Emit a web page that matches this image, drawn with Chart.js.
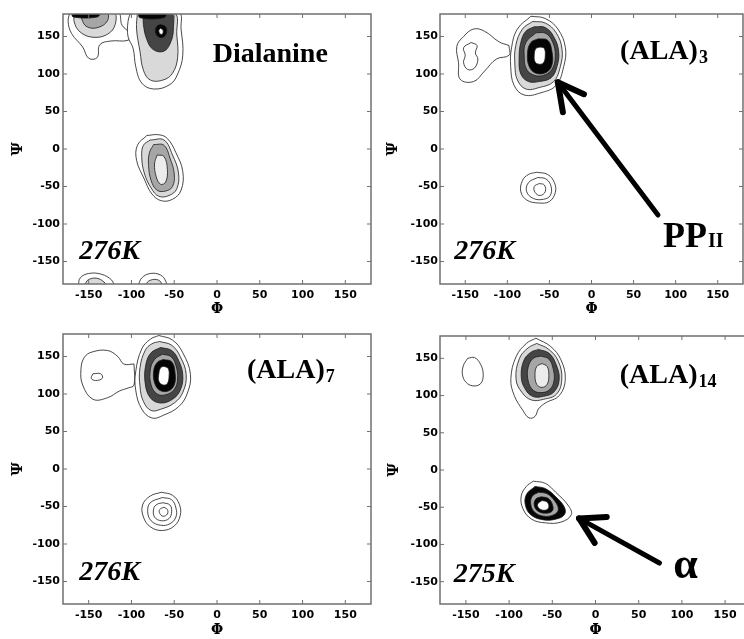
<!DOCTYPE html>
<html>
<head>
<meta charset="utf-8">
<script src="https://cdn.jsdelivr.net/npm/chart.js@4.4.0/dist/chart.umd.min.js"></script>
<style>
html, body { margin:0; padding:0; background:#fff; overflow:hidden; width:744px; height:639px; }
canvas { position:absolute; }
</style>
</head>
<body>
<canvas id="pA" width="380" height="318" style="left:0;top:0"></canvas>
<canvas id="pB" width="372" height="318" style="left:372px;top:0"></canvas>
<canvas id="pC" width="380" height="321" style="left:0;top:318px"></canvas>
<canvas id="pD" width="386" height="321" style="left:372px;top:318px"></canvas>
<script>
// axis ticks (degrees)
const phiTicks = [-150, -100, -50, 0, 50, 100, 150];
const psiTicks = [-150, -100, -50, 0, 50, 100, 150];

// contour rings, [phi, psi] pairs, outside -> inside
// Dialanine
const diaBetaOuter = [[-172,182],[-116,182],[-111,165],[-101,153],[-104,145],[-124,144],[-137,139],[-140,122],[-150,121],[-157,136],[-170,154],[-174,170],[-172,182]];
const diaBetaMid = [[-166,182],[-121,182],[-119,166],[-128,153],[-145,149],[-160,156],[-167,170],[-166,182]];
const diaBetaIn = [[-158,182],[-129,182],[-128,171],[-139,162],[-152,163],[-158,173],[-158,182]];
const diaBetaTop = [[-170,182],[-137,182],[-140,176],[-168,176],[-170,182]];
const diaPPOuter = [[-101,182],[-45,182],[-42,160],[-40,125],[-46,100],[-55,86],[-74,80],[-88,88],[-95,110],[-98,134],[-104,150],[-104,170],[-101,182]];
const diaPPMid = [[-93,182],[-50,182],[-47,152],[-46,122],[-52,101],[-63,92],[-78,92],[-86,105],[-90,130],[-94,160],[-93,182]];
const diaPPDark = [[-86,182],[-54,182],[-51,160],[-55,140],[-63,130],[-75,133],[-82,146],[-86,166],[-86,182]];
const diaPPTop = [[-92,182],[-60,182],[-62,175],[-90,175],[-92,182]];
const diaPPCore = [[-66,166],[-60,163],[-59,155],[-63,149],[-69,150],[-72,157],[-70,164],[-66,166]];
const diaPPHole = [[-66,161],[-63,158],[-64,153],[-67,154],[-68,158],[-66,161]];
const diaAlphaOuter = [[-82,18],[-68,19],[-58,14],[-48,-5],[-40,-30],[-42,-55],[-52,-67],[-65,-69],[-76,-60],[-85,-40],[-94,-15],[-93,5],[-82,18]];
const diaAlpha2 = [[-78,12],[-62,12],[-52,-8],[-45,-32],[-47,-53],[-56,-62],[-68,-63],[-77,-52],[-85,-32],[-88,-10],[-86,5],[-78,12]];
const diaAlpha3 = [[-74,6],[-62,5],[-55,-12],[-50,-33],[-52,-50],[-60,-56],[-70,-55],[-77,-42],[-80,-22],[-79,-5],[-74,6]];
const diaAlpha4 = [[-70,-8],[-62,-10],[-58,-27],[-60,-44],[-66,-47],[-71,-37],[-73,-20],[-70,-8]];
const diaBot1 = [[-162,-182],[-160,-172],[-150,-166],[-135,-167],[-123,-175],[-122,-182],[-162,-182]];
const diaBot1In = [[-155,-182],[-150,-174],[-138,-173],[-130,-182],[-155,-182]];
const diaBot2 = [[-92,-182],[-88,-172],[-78,-166],[-66,-168],[-60,-176],[-60,-182],[-92,-182]];
const diaBot2In = [[-85,-182],[-78,-175],[-68,-175],[-65,-182],[-85,-182]];

// (ALA)3
const ala3BetaOuter = [[-98,138],[-110,143],[-127,157],[-140,160],[-152,150],[-160,137],[-158,115],[-156,93],[-140,90],[-127,104],[-113,120],[-98,125],[-98,138]];
const ala3BetaIn = [[-143,142],[-136,138],[-138,128],[-135,120],[-139,108],[-147,106],[-152,115],[-150,125],[-152,135],[-143,142]];
const ala3PP1 = [[-72,177],[-55,174],[-40,160],[-31,135],[-33,110],[-42,85],[-60,75],[-80,72],[-92,85],[-96,110],[-95,135],[-88,160],[-72,177]];
const ala3PP2 = [[-70,170],[-55,168],[-42,155],[-35,133],[-37,110],[-45,90],[-62,82],[-78,80],[-88,92],[-91,112],[-90,138],[-82,160],[-70,170]];
const ala3PP3 = [[-68,163],[-55,162],[-45,150],[-39,130],[-41,110],[-48,95],[-62,90],[-75,90],[-84,100],[-86,120],[-84,142],[-78,157],[-68,163]];
const ala3PP4 = [[-66,155],[-54,154],[-46,142],[-43,125],[-46,108],[-55,99],[-67,98],[-77,106],[-80,124],[-78,142],[-66,155]];
const ala3PP5 = [[-63,147],[-52,145],[-47,130],[-47,112],[-54,102],[-66,101],[-74,110],[-76,128],[-72,142],[-63,147]];
const ala3PP6 = [[-61,136],[-56,134],[-55,123],[-57,115],[-62,113],[-67,116],[-68,126],[-66,134],[-61,136]];
const ala3Alpha1 = [[-65,-31],[-52,-34],[-44,-45],[-43,-58],[-50,-70],[-63,-72],[-77,-68],[-84,-57],[-82,-42],[-75,-34],[-65,-31]];
const ala3Alpha2 = [[-64,-38],[-54,-40],[-48,-50],[-49,-62],[-57,-67],[-69,-66],[-77,-57],[-75,-45],[-64,-38]];
const ala3Alpha3 = [[-62,-46],[-56,-48],[-55,-57],[-61,-62],[-67,-58],[-68,-50],[-62,-46]];

// (ALA)7
const ala7BetaOuter = [[-97,140],[-109,140],[-116,150],[-128,158],[-146,156],[-155,149],[-159,133],[-157,112],[-145,93],[-128,95],[-114,104],[-104,108],[-97,112],[-97,140]];
const ala7BetaIn = [[-145,127],[-136,127],[-134,121],[-142,118],[-147,121],[-145,127]];
const ala7PP1 = [[-68,178],[-52,172],[-40,155],[-31,126],[-35,100],[-45,83],[-62,72],[-76,68],[-88,80],[-95,105],[-95,130],[-88,160],[-78,173],[-68,178]];
const ala7PP2 = [[-67,170],[-53,165],[-43,150],[-36,126],[-40,102],[-50,88],[-65,80],[-77,78],[-86,90],[-90,110],[-90,135],[-84,158],[-76,167],[-67,170]];
const ala7PP3 = [[-66,162],[-53,158],[-45,145],[-40,125],[-43,105],[-52,93],[-66,88],[-78,95],[-84,115],[-83,140],[-77,155],[-66,162]];
const ala7PP4 = [[-64,153],[-54,150],[-48,138],[-46,120],[-50,106],[-60,99],[-70,100],[-77,112],[-78,132],[-73,146],[-64,153]];
const ala7PP5 = [[-63,146],[-53,143],[-49,128],[-50,112],[-57,104],[-67,105],[-73,115],[-74,131],[-70,142],[-63,146]];
const ala7PP6 = [[-62,137],[-57,134],[-56,124],[-58,114],[-63,112],[-68,117],[-68,127],[-66,135],[-62,137]];
const ala7Alpha1 = [[-65,-31],[-52,-35],[-44,-47],[-43,-62],[-50,-76],[-64,-82],[-78,-77],[-86,-64],[-87,-48],[-78,-36],[-65,-31]];
const ala7Alpha2 = [[-64,-38],[-53,-41],[-48,-52],[-48,-64],[-55,-73],[-66,-75],[-77,-69],[-81,-57],[-78,-45],[-64,-38]];
const ala7Alpha3 = [[-63,-45],[-55,-48],[-53,-57],[-56,-66],[-65,-69],[-73,-64],[-74,-53],[-70,-47],[-63,-45]];
const ala7Alpha4 = [[-62,-51],[-58,-54],[-58,-60],[-63,-63],[-67,-59],[-67,-54],[-62,-51]];

// (ALA)14
const ala14Beta = [[-148,150],[-140,151],[-133,142],[-130,128],[-133,116],[-142,113],[-150,118],[-154,128],[-153,140],[-148,150]];
const ala14PP1 = [[-69,177],[-52,166],[-40,148],[-35,122],[-42,100],[-58,90],[-66,82],[-70,72],[-77,70],[-84,80],[-94,100],[-98,122],[-92,152],[-80,170],[-69,177]];
const ala14PP2 = [[-68,170],[-54,162],[-43,146],[-39,122],[-45,102],[-60,95],[-74,94],[-85,104],[-92,122],[-88,150],[-78,164],[-68,170]];
const ala14PP3 = [[-66,162],[-54,157],[-46,143],[-42,122],[-48,105],[-60,99],[-73,99],[-82,110],[-86,126],[-83,147],[-75,158],[-66,162]];
const ala14PP4 = [[-63,153],[-54,149],[-49,136],[-48,120],[-53,108],[-62,104],[-72,107],[-78,120],[-78,138],[-72,150],[-63,153]];
const ala14PP5 = [[-62,143],[-56,139],[-54,127],[-56,115],[-62,111],[-68,115],[-70,128],[-68,139],[-62,143]];
const ala14Alpha1 = [[-72,-15],[-58,-18],[-46,-30],[-32,-47],[-28,-60],[-40,-70],[-58,-71],[-74,-66],[-84,-52],[-86,-35],[-80,-22],[-72,-15]];
const ala14Alpha2 = [[-70,-22],[-58,-25],[-46,-36],[-36,-50],[-36,-60],[-46,-66],[-60,-67],[-74,-61],[-81,-48],[-80,-33],[-70,-22]];
const ala14Alpha3 = [[-66,-30],[-56,-32],[-47,-42],[-43,-53],[-48,-60],[-60,-62],[-71,-56],[-75,-45],[-73,-35],[-66,-30]];
const ala14Alpha4 = [[-63,-36],[-55,-38],[-50,-46],[-50,-55],[-58,-58],[-67,-55],[-71,-47],[-69,-39],[-63,-36]];
const ala14Alpha5 = [[-62,-41],[-56,-43],[-54,-50],[-58,-54],[-65,-52],[-67,-46],[-62,-41]];

// contour level of each ring: 0 outer ... 4 peak, 5 hole, 6 pale centre
const levelFill = ['#ffffff', '#d9d9d9', '#a6a6a6', '#454545', '#050505', '#ffffff', '#ececec'];

const ringsA = [[diaBetaOuter,0],[diaBetaMid,1],[diaBetaIn,2],[diaBetaTop,4],
  [diaPPOuter,0],[diaPPMid,1],[diaPPDark,3],[diaPPTop,4],[diaPPCore,4],[diaPPHole,5],
  [diaAlphaOuter,0],[diaAlpha2,1],[diaAlpha3,2],[diaAlpha4,6],
  [diaBot1,0],[diaBot1In,1],[diaBot2,0],[diaBot2In,1]];
const ringsB = [[ala3BetaOuter,0],[ala3BetaIn,0],
  [ala3PP1,0],[ala3PP2,1],[ala3PP3,3],[ala3PP4,2],[ala3PP5,4],[ala3PP6,5],
  [ala3Alpha1,0],[ala3Alpha2,0],[ala3Alpha3,0]];
const ringsC = [[ala7BetaOuter,0],[ala7BetaIn,0],
  [ala7PP1,0],[ala7PP2,1],[ala7PP3,3],[ala7PP4,2],[ala7PP5,4],[ala7PP6,5],
  [ala7Alpha1,0],[ala7Alpha2,0],[ala7Alpha3,0],[ala7Alpha4,0]];
const ringsD = [[ala14Beta,0],
  [ala14PP1,0],[ala14PP2,1],[ala14PP3,3],[ala14PP4,2],[ala14PP5,6],
  [ala14Alpha1,0],[ala14Alpha2,4],[ala14Alpha3,2],[ala14Alpha4,4],[ala14Alpha5,5]];

// arrows: shaft then the two strokes of the head
const ppArrow = [[[79,-88],[-40,89]], [[-40,89],[-34,49]], [[-40,89],[-9,73]]];
const alphaArrow = [[[74,-125],[-19,-65]], [[-19,-65],[13,-63]], [[-19,-65],[-1,-98]]];

const serifB = 'bold 28px "Liberation Serif"';
const serifI = 'italic bold 28px "Liberation Serif"';

// frame, inner ticks and panel texts
const panelDeco = {
  id: 'panelDeco',
  afterDatasetsDraw(chart, args, opts) {
    const ctx = chart.ctx, a = chart.chartArea, x = chart.scales.x, y = chart.scales.y;
    ctx.save();
    ctx.strokeStyle = '#707070';
    ctx.lineWidth = 1.5;
    ctx.strokeRect(a.left, a.top, a.right - a.left, a.bottom - a.top);
    ctx.lineWidth = 1;
    ctx.beginPath();
    phiTicks.forEach(function(v) {
      const px = x.getPixelForValue(v);
      ctx.moveTo(px, a.bottom); ctx.lineTo(px, a.bottom - 4);
      ctx.moveTo(px, a.top); ctx.lineTo(px, a.top + 4);
    });
    psiTicks.forEach(function(v) {
      const py = y.getPixelForValue(v);
      ctx.moveTo(a.left, py); ctx.lineTo(a.left + 4, py);
      ctx.moveTo(a.right, py); ctx.lineTo(a.right - 4, py);
    });
    ctx.stroke();
    ctx.fillStyle = '#000';
    ctx.textBaseline = 'alphabetic';
    (opts.items || []).forEach(function(it) {
      const px = x.getPixelForValue(it.phi), py = y.getPixelForValue(it.psi);
      ctx.font = it.font;
      ctx.fillText(it.text, px, py);
      if (it.sub) {
        const w = ctx.measureText(it.text).width;
        ctx.font = it.subFont;
        ctx.fillText(it.sub, px + w + 1, py + it.subDy);
      }
    });
    ctx.restore();
  }
};

function makePanel(id, rings, arrows, items, box) {
  const sets = rings.map(function(r) {
    return {
      data: r[0].map(p => ({x: p[0], y: p[1]})),
      showLine: true,
      fill: 'shape',
      backgroundColor: levelFill[r[1]],
      borderColor: '#1a1a1a',
      borderWidth: 0.8,
      pointRadius: 0,
      tension: 0.4
    };
  });
  arrows.forEach(function(seg, i) {
    sets.push({
      data: seg.map(p => ({x: p[0], y: p[1]})),
      showLine: true, fill: false,
      borderColor: '#000', borderWidth: i == 0 ? 5 : 6,
      borderCapStyle: 'round',
      pointRadius: 0, tension: 0
    });
  });
  sets.forEach(function(d, i) { d.order = sets.length - i; });

  new Chart(document.getElementById(id), {
    type: 'scatter',
    data: { datasets: sets },
    plugins: [panelDeco],
    options: {
      responsive: false,
      animation: false,
      devicePixelRatio: 1,
      layout: { padding: { top: box.top, right: box.right, left: 0, bottom: 0 } },
      plugins: { legend: { display: false }, tooltip: { enabled: false }, panelDeco: { items: items } },
      scales: {
        x: {
          type: 'linear', min: -180, max: 180,
          afterBuildTicks: s => { s.ticks = phiTicks.map(v => ({value: v})); },
          afterFit: s => { s.height = box.xh; },
          grid: { display: false, drawTicks: false }, border: { display: false },
          ticks: { color: '#000', padding: 5, maxRotation: 0, font: { family: '"DejaVu Sans"', weight: 'bold', size: 11 } },
          title: { display: true, text: 'Φ', color: '#000', padding: 0, font: { family: '"DejaVu Serif"', weight: 'bold', size: 14 } }
        },
        y: {
          type: 'linear', min: -180, max: 180,
          afterBuildTicks: s => { s.ticks = psiTicks.map(v => ({value: v})); },
          afterFit: s => { s.width = box.yw; },
          grid: { display: false, drawTicks: false }, border: { display: false },
          ticks: { color: '#000', padding: box.tp, font: { family: '"DejaVu Sans"', weight: 'bold', size: 11 } },
          title: { display: true, text: 'Ψ', color: '#000', padding: { top: box.tt, bottom: 0 }, font: { family: '"DejaVu Serif"', weight: 'bold', size: 15 } }
        }
      }
    }
  });
}

makePanel('pA', ringsA, [], [
  { text: 'Dialanine', phi: -5, psi: 116, font: serifB },
  { text: '276K', phi: -161, psi: -147, font: serifI }
], { top: 14, right: 9, xh: 34, yw: 63, tp: 3, tt: 9 });

makePanel('pB', ringsB, ppArrow, [
  { text: '(ALA)', phi: 34, psi: 120, font: serifB, sub: '3', subFont: 'bold 18px "Liberation Serif"', subDy: 4 },
  { text: '276K', phi: -163, psi: -147, font: serifI },
  { text: 'PP', phi: 85, psi: -131, font: 'bold 36px "Liberation Serif"', sub: 'II', subFont: 'bold 20px "Liberation Serif"', subDy: 0 }
], { top: 14, right: 1, xh: 34, yw: 68, tp: 2, tt: 12 });

makePanel('pC', ringsC, [], [
  { text: '(ALA)', phi: 35, psi: 121, font: serifB, sub: '7', subFont: 'bold 18px "Liberation Serif"', subDy: 4 },
  { text: '276K', phi: -161, psi: -148, font: serifI }
], { top: 16, right: 9, xh: 35, yw: 63, tp: 3, tt: 9 });

makePanel('pD', ringsD, alphaArrow, [
  { text: '(ALA)', phi: 28, psi: 117, font: serifB, sub: '14', subFont: 'bold 18px "Liberation Serif"', subDy: 4 },
  { text: '275K', phi: -164, psi: -151, font: serifI },
  { text: 'α', phi: 90, psi: -145, font: 'bold 44px "Liberation Serif"' }
], { top: 18, right: 7, xh: 35, yw: 68, tp: 2, tt: 13 });
</script>
</body>
</html>
